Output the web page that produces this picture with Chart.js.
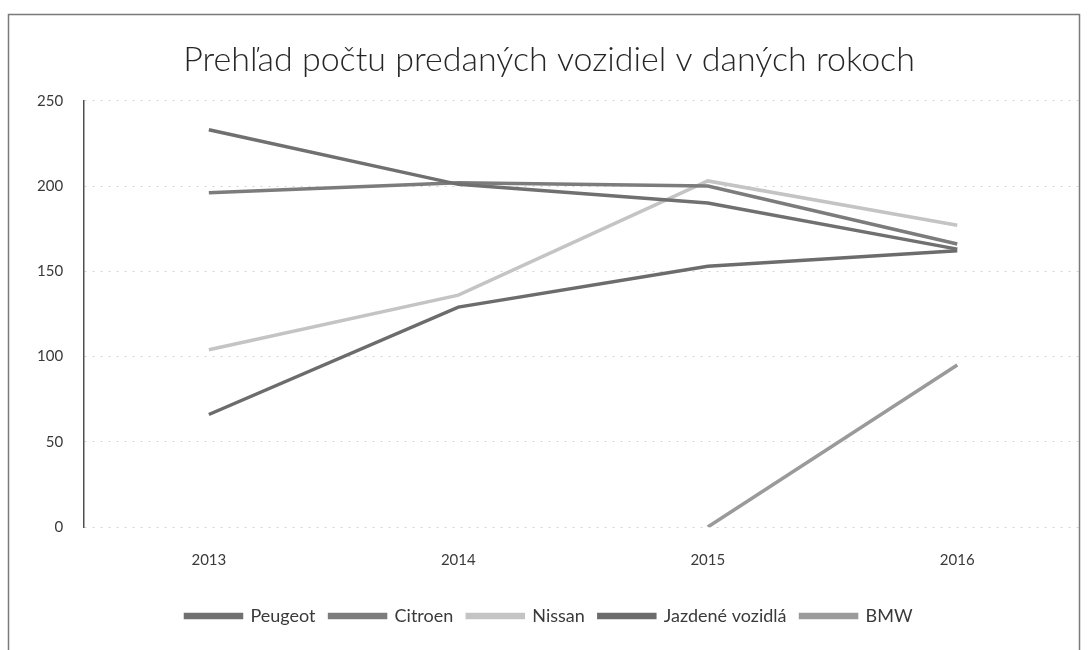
<!DOCTYPE html>
<html lang="sk">
<head>
  <meta charset="UTF-8">
  <title>Prehľad počtu predaných vozidiel</title>
  <script src="https://cdn.jsdelivr.net/npm/chart.js@4.4.1/dist/chart.umd.min.js"></script>
  <style>
    body { margin: 0; background: #fff; }
    #chart { display: block; }
  </style>
</head>
<body>
  <canvas id="chart" width="1090" height="650"></canvas>

  <script>
    // data
    const years = ['2013', '2014', '2015', '2016'];
    const peugeot = [233, 201, 190, 163];
    const citroen = [196, 202, 200, 166];
    const nissan = [104, 136, 203, 177];
    const jazdene = [66, 129, 153, 162];
    const bmw = [null, null, 0, 95];
    const yTicks = [0, 50, 100, 150, 200, 250];

    const textColor = '#3a3a3a';
    const fontFamily = 'Lato, "Open Sans", sans-serif';

    function series(label, data, color) {
      return {
        label: label,
        data: data,
        borderColor: color,
        backgroundColor: color,
        borderWidth: 3.5,
        pointRadius: 0,
        tension: 0,
        spanGaps: false
      };
    }

    // frame around the whole chart, like the scanned sheet
    const framePlugin = {
      id: 'frame',
      afterDraw(chart) {
        const ctx = chart.ctx;
        ctx.save();
        ctx.strokeStyle = '#7a7a7a';
        ctx.lineWidth = 1.5;
        ctx.strokeRect(8.5, 14.5, 1071, 700);
        ctx.restore();
      }
    };

    const ctx = document.getElementById('chart').getContext('2d');
    new Chart(ctx, {
      type: 'line',
      data: {
        labels: years,
        datasets: [
          series('Peugeot', peugeot, '#707070'),
          series('Citroen', citroen, '#7c7c7c'),
          series('Nissan', nissan, '#c4c4c4'),
          series('Jazdené vozidlá', jazdene, '#6c6c6c'),
          series('BMW', bmw, '#9a9a9a')
        ]
      },
      options: {
        responsive: false,
        animation: false,
        layout: { padding: { left: 16, right: 8, top: 0, bottom: 15 } },
        plugins: {
          title: {
            display: true,
            text: 'Prehľad počtu predaných vozidiel v daných rokoch',
            color: '#262626',
            font: { family: fontFamily, size: 34, weight: '300' },
            padding: { top: 40, bottom: 20 }
          },
          legend: {
            position: 'bottom',
            labels: {
              color: textColor,
              font: { family: fontFamily, size: 18 },
              boxWidth: 56,
              boxHeight: 3,
              padding: 14
            }
          },
          tooltip: { enabled: false }
        },
        scales: {
          x: {
            offset: true,
            grid: { display: false, drawTicks: false },
            border: { display: false },
            ticks: {
              color: textColor,
              font: { family: fontFamily, size: 15 },
              padding: 24
            }
          },
          y: {
            min: 0,
            max: 250,
            afterBuildTicks(scale) {
              scale.ticks = yTicks.map(v => ({ value: v }));
            },
            grid: {
              color: '#d4d4d4',
              drawTicks: false
            },
            border: { display: true, color: '#505050', width: 1.5, dash: [2, 6] },
            ticks: {
              color: textColor,
              font: { family: fontFamily, size: 15 },
              padding: 21
            }
          }
        }
      },
      plugins: [framePlugin]
    });
  </script>
</body>
</html>
